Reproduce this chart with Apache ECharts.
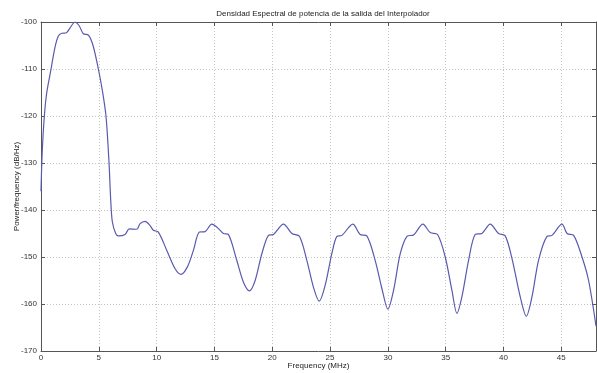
<!DOCTYPE html>
<html>
<head>
<meta charset="utf-8">
<script src="https://cdn.jsdelivr.net/npm/echarts@6/dist/echarts.min.js"></script>
<style>
html,body{margin:0;padding:0;background:#fff;}
#chart{width:597px;height:373px;}
</style>
</head>
<body>
<div id="chart"></div>
<script>
const titleText = "Densidad Espectral de potencia de la salida del Interpolador";
const xName = "Frequency (MHz)";
const yName = "Power/frequency (dB/Hz)";
const freq = [0,0.1,0.29,0.5,0.87,1.2,1.5,1.8,2.2,2.5,2.94,3.3,3.66,4.1,4.5,4.96,5.3,5.62,5.88,6.03,6.17,6.46,6.69,7.27,7.64,8.28,8.57,9.0,9.4,9.72,10.15,10.88,11.6,12.11,12.66,13.18,13.7,14.19,14.77,15.2,15.78,16.2,16.93,17.5,18.03,18.52,19.1,19.67,20.1,20.97,21.7,22.35,22.99,23.56,24.06,24.58,25.15,25.59,26.02,26.97,27.6,28.18,28.9,29.48,30.0,30.49,31.07,31.65,32.22,33.03,33.66,34.3,34.96,35.54,35.97,36.4,36.98,37.56,38.13,38.85,39.57,40.15,40.73,41.45,41.97,42.46,43.03,43.76,44.19,45.06,45.5,46.07,46.79,47.36,48];
const psd = [-136,-128,-120,-115,-110,-105.5,-103,-102.4,-102.3,-101.3,-100,-100.8,-102.5,-102.8,-105,-110,-114.5,-120,-129.8,-137.9,-142.5,-145.0,-145.5,-145.2,-144.0,-144.1,-142.9,-142.4,-143.2,-144.3,-144.7,-148.6,-152.5,-153.7,-152.1,-148.6,-144.7,-144.6,-143.0,-143.6,-145.0,-145.2,-150.7,-155.3,-157.2,-155.0,-149.3,-145.4,-145.2,-143.0,-145.0,-145.6,-150.7,-156.4,-159.4,-156.0,-149.3,-145.6,-145.4,-143.0,-145.2,-145.5,-150.7,-156.7,-161.1,-157.1,-149.3,-145.6,-145.3,-143.0,-144.8,-145.2,-150.0,-157.1,-162.0,-158.5,-150.7,-145.2,-145.0,-143.0,-145.0,-145.5,-150.3,-158.5,-162.6,-158.5,-150.7,-145.6,-145.4,-143.0,-145.0,-145.4,-150.0,-155.0,-164.7];
const xTicks = [0,5,10,15,20,25,30,35,40,45];
const yTicks = [-170,-160,-150,-140,-130,-120,-110,-100];

const chart = echarts.init(document.getElementById('chart'), null, {renderer:'canvas'});
const font = 'Liberation Sans, Arial, sans-serif';
const axisColor = '#555';
const gridLine = {show:true, lineStyle:{color:'#c4c4c4', type:[1,2], width:1}};
chart.setOption({
  animation:false,
  backgroundColor:'#fff',
  title:{text:titleText, left:318, top:5, textAlign:'center',
    textStyle:{fontFamily:font, fontSize:8, fontWeight:'normal', color:'#222'}},
  grid:{left:41, right:1, top:22, bottom:22, containLabel:false, outerBoundsMode:'none'},
  xAxis:[{
    type:'value', min:0, max:48, interval:5,
    name:xName, nameLocation:'middle', nameGap:11, nameMoveOverlap:false,
    nameTextStyle:{fontFamily:font, fontSize:8, color:'#222'},
    axisLine:{show:true, onZero:false, lineStyle:{color:axisColor, width:1}},
    axisTick:{show:true, inside:true, length:4, lineStyle:{color:axisColor}, customValues: xTicks},
    axisLabel:{fontFamily:font, fontSize:8, color:'#333', margin:3, customValues: xTicks},
    splitLine:gridLine
  },{
    type:'value', min:0, max:48, interval:5, position:'top',
    axisLine:{show:true, onZero:false, lineStyle:{color:axisColor, width:1}},
    axisTick:{show:true, inside:true, length:4, lineStyle:{color:axisColor}, customValues: xTicks},
    axisLabel:{show:false}, splitLine:{show:false}
  }],
  yAxis:[{
    type:'value', min:-170, max:-100, interval:10,
    name:yName, nameLocation:'middle', nameGap:20, nameRotate:90, nameMoveOverlap:false,
    nameTextStyle:{fontFamily:font, fontSize:8, color:'#222'},
    axisLine:{show:true, onZero:false, lineStyle:{color:axisColor, width:1}},
    axisTick:{show:true, inside:true, length:4, lineStyle:{color:axisColor}},
    axisLabel:{fontFamily:font, fontSize:8, color:'#333', margin:4},
    splitLine:gridLine
  },{
    type:'value', min:-170, max:-100, interval:10, position:'right',
    axisLine:{show:true, onZero:false, lineStyle:{color:axisColor, width:1}},
    axisTick:{show:true, inside:true, length:4, lineStyle:{color:axisColor}},
    axisLabel:{show:false}, splitLine:{show:false}
  }],
  series:[{
    type:'line', xAxisIndex:0, yAxisIndex:0,
    data: freq.map((f,i)=>[f, psd[i]]),
    showSymbol:false, smooth:0.3,
    lineStyle:{color:'#5a5aad', width:1.2}
  }]
});
</script>
</body>
</html>
